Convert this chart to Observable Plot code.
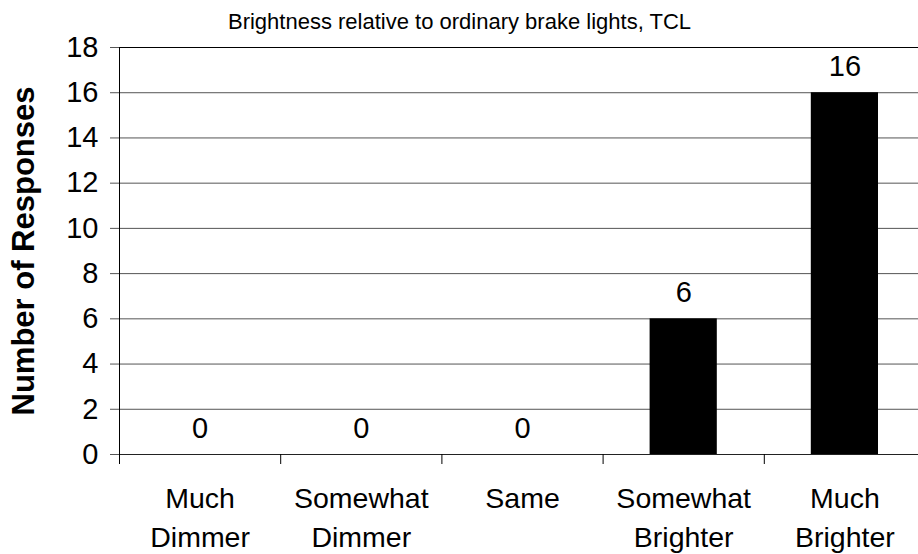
<!DOCTYPE html>
<html>
<head>
<meta charset="utf-8">
<script src="https://cdn.jsdelivr.net/npm/d3@7"></script>
<script src="https://cdn.jsdelivr.net/npm/@observablehq/plot@0.6"></script>
<style>
  html, body { margin: 0; padding: 0; background: #fff; overflow: hidden; }
</style>
</head>
<body>
<div id="chart"></div>
<script>
const title = "Brightness relative to ordinary brake lights, TCL";
const yLabel = "Number of Responses";
const categories = ["Much\nDimmer", "Somewhat\nDimmer", "Same", "Somewhat\nBrighter", "Much\nBrighter"];
const values = [0, 0, 0, 6, 16];
const yTicks = [0, 2, 4, 6, 8, 10, 12, 14, 16, 18];

const data = categories.map((c, i) => ({cat: c, i, value: values[i]}));
const boundaries = categories.map((c, i) => i);
const gridTicks = yTicks.filter(t => t > 0 && t < 18);

const font = "'Liberation Sans', Arial, sans-serif";

const chart = Plot.plot({
  width: 918,
  height: 554,
  marginLeft: 119,
  marginRight: -7,
  marginTop: 47,
  marginBottom: 100,
  x: {domain: [0, categories.length], axis: null},
  y: {domain: [0, 18], axis: null},
  style: {fontFamily: font, background: "#fff", color: "#000", overflow: "visible"},
  marks: [
    Plot.ruleY(gridTicks, {y: d => d, stroke: "#555", strokeOpacity: 1}),
    Plot.ruleY([18], {stroke: "#000", strokeOpacity: 1}),
    Plot.rectY(data, {x1: "i", x2: d => d.i + 1, y: "value", fill: "#000", insetLeft: 47, insetRight: 47}),
    Plot.ruleY([0], {stroke: "#222", strokeOpacity: 1}),
    Plot.ruleX([0], {stroke: "#000", strokeOpacity: 1}),
    Plot.axisY({ticks: yTicks, tickSize: 9, tickPadding: 12, fontSize: 29, label: null, tickFormat: d => String(d), stroke: "#555"}),
    Plot.axisX({ticks: boundaries, tickSize: 10, tickFormat: () => "", label: null, stroke: "#000"}),
    Plot.text(data, {x: d => d.i + 0.5, text: "cat", frameAnchor: "bottom", lineAnchor: "top", dy: 26, fontSize: 28.5, lineHeight: 1.36, fill: "#000"}),
    Plot.text(data, {x: d => d.i + 0.5, y: "value", text: d => String(d.value), lineAnchor: "bottom", dy: -17, fontSize: 29, fill: "#000"}),
    Plot.text([title], {frameAnchor: "top", dx: -63, dy: -19, lineAnchor: "bottom", fontSize: 22, fill: "#000"}),
    Plot.text([yLabel], {frameAnchor: "left", dx: -95, rotate: -90, textAnchor: "middle", fontSize: 31, fontWeight: "bold", fill: "#000"})
  ]
});
document.getElementById("chart").appendChild(chart);
</script>
</body>
</html>
